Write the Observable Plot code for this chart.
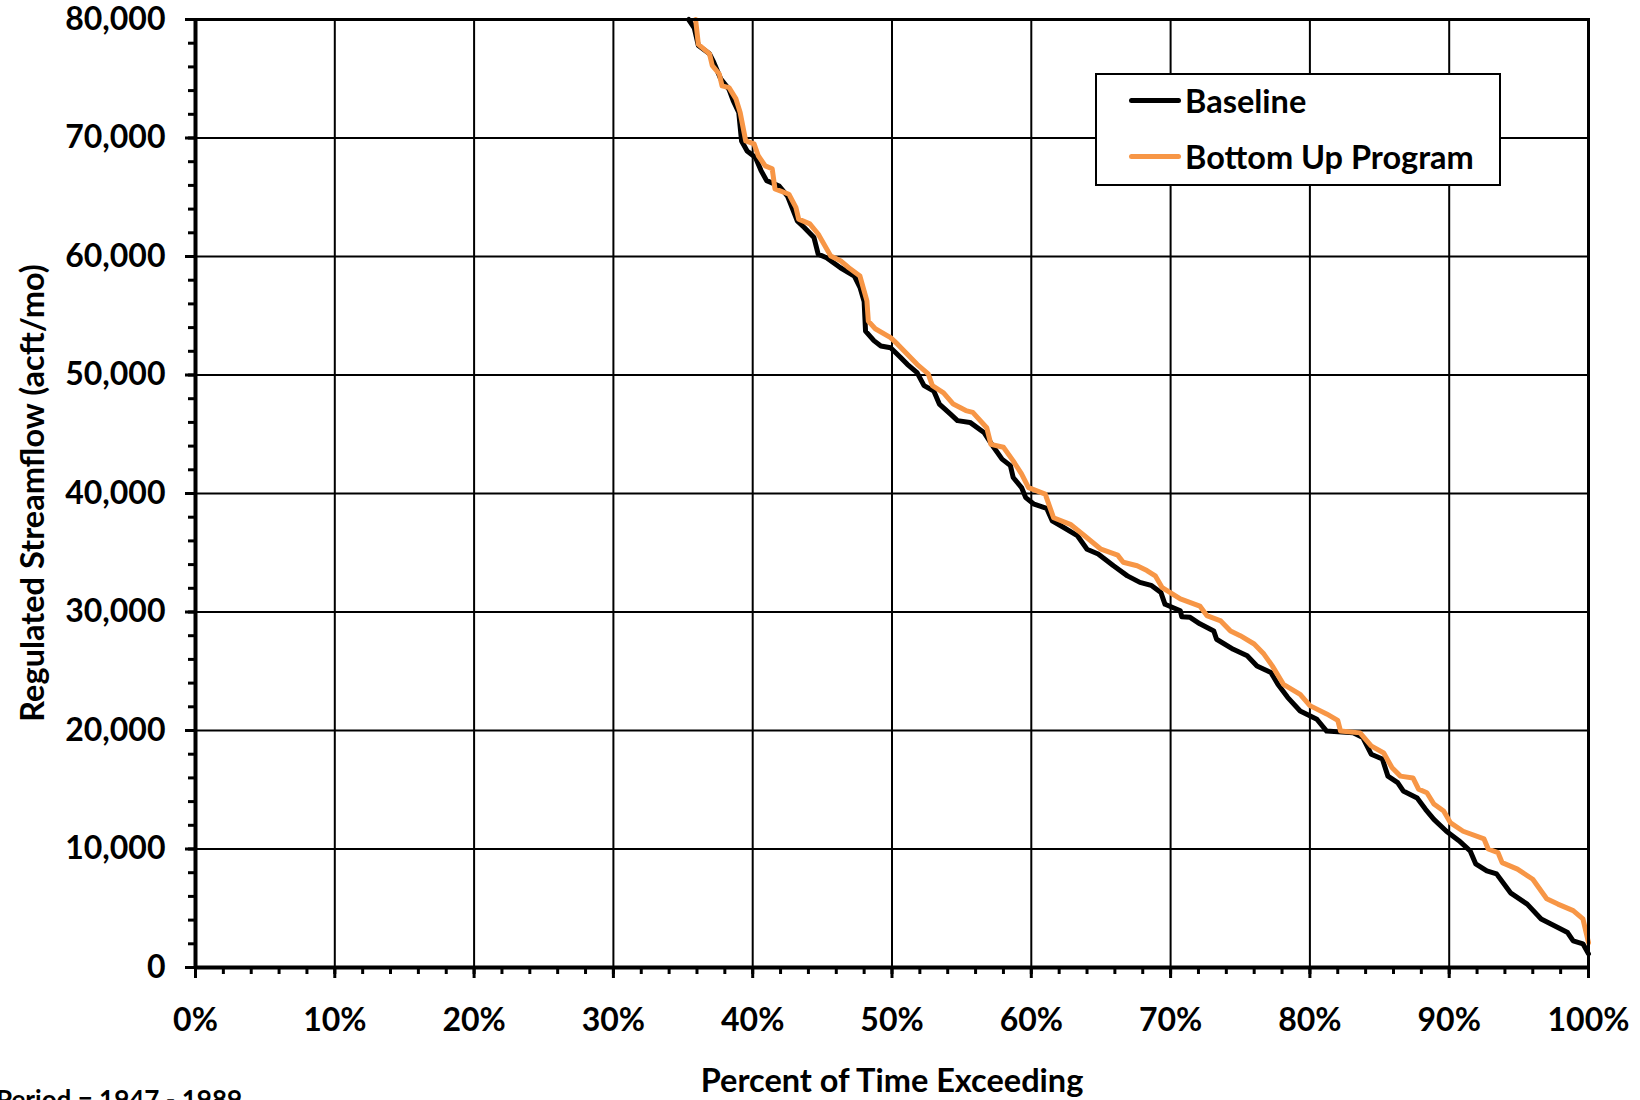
<!DOCTYPE html>
<html>
<head>
<meta charset="utf-8">
<script src="https://cdn.jsdelivr.net/npm/d3@7"></script>
<script src="https://cdn.jsdelivr.net/npm/@observablehq/plot@0.6"></script>
<style>
  html, body { margin: 0; padding: 0; background: white; }
  #wrap { position: relative; width: 1640px; height: 1100px; overflow: hidden; font-family: Lato, sans-serif; font-weight: bold; color: black; }
  #chart { position: absolute; left: 0; top: 0; }
  .txt { position: absolute; white-space: nowrap; line-height: 1; }
  #legend { position: absolute; left: 1095px; top: 73px; width: 402px; height: 109px; border: 2px solid black; background: white; }
  .row { position: absolute; left: 32px; display: flex; align-items: center; font-size: 32.5px; }
  .swatch { width: 52px; height: 5px; border-radius: 3px; margin-right: 4px; }
</style>
</head>
<body>
<div id="wrap">
  <div id="chart"></div>
  <div class="txt" id="ytitle" style="font-size:32.5px; left:32px; top:493px; transform: translate(-50%,-50%) rotate(-90deg);">Regulated Streamflow (acft/mo)</div>
  <div class="txt" style="font-size:32.5px; left:892px; top:1064px; transform: translateX(-50%);">Percent of Time Exceeding</div>
  <div class="txt" style="font-size:26px; left:-4px; top:1086px;">Period = 1947 - 1989</div>
  <div id="legend">
    <div class="row" style="top:6px;"><div class="swatch" style="background:black"></div><span>Baseline</span></div>
    <div class="row" style="top:62px;"><div class="swatch" style="background:#F79646"></div><span>Bottom Up Program</span></div>
  </div>
</div>
<script>
const seriesNames = ["Baseline", "Bottom Up Program"];
const seriesColors = ["black", "#F79646"];

const xTicks = [0, 10, 20, 30, 40, 50, 60, 70, 80, 90, 100];
const xMinorTicks = d3.range(0, 101, 2);
const yTicks = [0, 10000, 20000, 30000, 40000, 50000, 60000, 70000, 80000];
const yMinorTicks = d3.range(0, 80001, 2000);

// Percent of time exceeding (%)
const baselinePct = [35.4, 35.8, 36.1, 36.9, 37.2, 37.7, 38.3, 38.6, 39.0, 39.2, 39.6, 40.2, 40.6, 41.0, 41.9, 42.5, 43.2, 43.7, 44.4, 44.7, 45.3, 46.3, 47.3, 47.7, 48.0, 48.1, 48.7, 49.2, 49.9, 50.6, 51.1, 51.8, 52.3, 53.0, 53.4, 54.2, 54.7, 55.6, 56.6, 57.3, 57.9, 58.5, 58.7, 59.3, 59.6, 60.2, 61.1, 61.5, 62.3, 63.3, 64.0, 64.8, 65.9, 66.9, 67.8, 68.6, 69.3, 69.6, 70.7, 70.8, 71.4, 72.1, 73.1, 73.3, 74.5, 75.5, 76.2, 77.2, 77.7, 78.4, 79.3, 80.5, 81.2, 83.1, 83.8, 84.4, 85.2, 85.6, 86.3, 86.7, 87.7, 88.3, 88.9, 89.8, 90.7, 91.5, 91.9, 92.7, 93.4, 94.4, 95.6, 96.6, 97.8, 98.5, 98.9, 99.6, 100];
// Regulated streamflow (acft/mo)
const baselineFlow = [80000, 79300, 77800, 77100, 76400, 75000, 74100, 73150, 72150, 69750, 68900, 68350, 67250, 66400, 65950, 65100, 63000, 62450, 61600, 60200, 59900, 59050, 58350, 57400, 56200, 53700, 52900, 52450, 52300, 51500, 50900, 50200, 49100, 48650, 47550, 46700, 46150, 46000, 45150, 43900, 42900, 42350, 41350, 40500, 39650, 39100, 38750, 37700, 37150, 36450, 35300, 34900, 33900, 33050, 32500, 32250, 31650, 30650, 30100, 29600, 29550, 29000, 28400, 27700, 26850, 26300, 25450, 24900, 23900, 22800, 21650, 20950, 19950, 19800, 19400, 18000, 17600, 16150, 15600, 14900, 14300, 13350, 12500, 11500, 10700, 9850, 8750, 8150, 7900, 6300, 5350, 4100, 3370, 2950, 2250, 2000, 1150];

const bottomUpPct = [35.9, 36.1, 36.9, 37.1, 37.6, 37.8, 38.3, 38.8, 39.1, 39.5, 40.1, 40.4, 40.9, 41.4, 41.6, 42.6, 43.1, 43.3, 44.1, 44.7, 45.6, 46.3, 46.9, 47.7, 48.2, 48.3, 48.8, 49.9, 50.4, 51.1, 51.8, 52.6, 52.9, 53.7, 54.4, 55.3, 55.8, 56.8, 57.1, 58.0, 58.7, 59.3, 59.8, 61.0, 61.6, 62.8, 63.8, 65.0, 66.2, 66.6, 67.6, 68.3, 68.9, 69.4, 70.7, 72.1, 72.6, 73.6, 74.3, 75.0, 76.0, 76.7, 77.3, 78.1, 79.3, 80.0, 81.2, 82.0, 82.2, 83.6, 84.4, 85.3, 85.9, 86.5, 87.4, 87.8, 88.4, 88.9, 89.6, 90.1, 91.0, 92.5, 92.8, 93.5, 93.8, 94.9, 96.0, 97.0, 97.8, 98.9, 99.6, 100];
const bottomUpFlow = [80000, 77900, 77100, 76100, 75400, 74400, 74250, 73300, 72150, 69750, 69500, 68500, 67650, 67400, 65700, 65250, 64150, 63150, 62750, 61900, 60050, 59650, 59050, 58350, 56250, 54550, 53900, 53150, 52600, 51750, 50900, 50100, 49100, 48500, 47550, 47000, 46850, 45550, 44150, 43900, 42750, 41650, 40500, 39950, 37950, 37400, 36450, 35300, 34800, 34200, 33900, 33500, 33050, 32050, 31100, 30500, 29700, 29250, 28400, 28000, 27300, 26450, 25450, 23900, 23050, 22100, 21400, 20850, 19950, 19800, 18700, 18100, 16850, 16150, 16000, 15050, 14750, 13800, 13200, 12200, 11500, 10850, 10000, 9700, 8850, 8300, 7450, 5800, 5350, 4800, 4100, 2100];

const baseline = baselinePct.map((p, i) => ({pct: p, flow: baselineFlow[i]}));
const bottomUp = bottomUpPct.map((p, i) => ({pct: p, flow: bottomUpFlow[i]}));

const chart = Plot.plot({
  width: 1640,
  height: 1100,
  marginLeft: 195,
  marginRight: 52,
  marginTop: 19,
  marginBottom: 133,
  style: {fontFamily: "Lato, sans-serif", fontWeight: "bold", fontSize: "32px", background: "white", color: "black", overflow: "visible"},
  x: {domain: [0, 100], label: null},
  y: {domain: [0, 80000], label: null},
  marks: [
    Plot.gridX(xTicks, {stroke: "black", strokeOpacity: 1, strokeWidth: 2}),
    Plot.gridY(yTicks, {stroke: "black", strokeOpacity: 1, strokeWidth: 2}),
    Plot.line(baseline, {x: "pct", y: "flow", stroke: seriesColors[0], strokeWidth: 5, strokeLinejoin: "round"}),
    Plot.line(bottomUp, {x: "pct", y: "flow", stroke: seriesColors[1], strokeWidth: 5, strokeLinejoin: "round"}),
    Plot.axisY(yMinorTicks, {tickSize: 7, strokeWidth: 3, tickFormat: () => "", label: null}),
    Plot.axisY(yTicks, {tickSize: 10, tickPadding: 20, strokeWidth: 3, tickFormat: d3.format(","), label: null, fontSize: 32}),
    Plot.axisX(xMinorTicks, {tickSize: 7, strokeWidth: 3, tickFormat: () => "", label: null}),
    Plot.axisX(xTicks, {tickSize: 11, tickPadding: 30, strokeWidth: 3, tickFormat: d => d + "%", label: null, fontSize: 32}),
    Plot.frame({stroke: "black", strokeWidth: 3}),
    Plot.ruleX([0], {stroke: "black", strokeWidth: 4}),
    Plot.ruleY([0], {stroke: "black", strokeWidth: 4})
  ]
});
document.getElementById("chart").appendChild(chart);
</script>
</body>
</html>
